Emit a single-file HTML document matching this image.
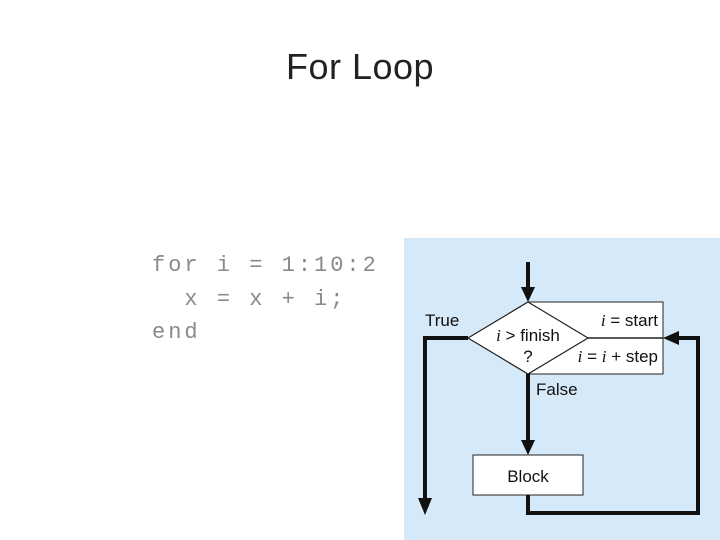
<!DOCTYPE html>
<html><head><meta charset="utf-8"><style>
body{margin:0;width:720px;height:540px;background:#fff;position:relative;overflow:hidden;font-family:"Liberation Sans",sans-serif}
.t{position:absolute;left:0;width:720px;top:46px;text-align:center;font-size:36px;color:#222;letter-spacing:0.5px}
.c{position:absolute;left:152px;font-family:"Liberation Mono",monospace;font-size:22px;letter-spacing:3px;color:#8a8a8a;white-space:pre}
</style></head><body>
<div class="t">For Loop</div>
<div class="c" style="top:253px">for i = 1:10:2</div>
<div class="c" style="top:287px">  x = x + i;</div>
<div class="c" style="top:320px">end</div>
<svg style="position:absolute;left:0;top:0" width="720" height="540">
<rect x="404" y="238" width="316" height="302" fill="#d5e9f8"/>
<rect x="528" y="302" width="135" height="72" fill="#fff" stroke="#222" stroke-width="1"/>
<line x1="588" y1="338" x2="663" y2="338" stroke="#222" stroke-width="1.5"/>
<polygon points="528,302 588,338 528,374 468,338" fill="#fff" stroke="#222" stroke-width="1.2"/>
<rect x="473" y="455" width="110" height="40" fill="#fff" stroke="#222" stroke-width="1"/>
<g stroke="#111" stroke-width="4" fill="none">
<line x1="528" y1="262" x2="528" y2="290"/>
<polyline points="468,338 425,338 425,500"/>
<line x1="528" y1="374" x2="528" y2="443"/>
<polyline points="528,495 528,513 698,513 698,338 676,338"/>
</g>
<g fill="#111">
<polygon points="521,287 535,287 528,302"/>
<polygon points="418,498 432,498 425,515"/>
<polygon points="521,440 535,440 528,455"/>
<polygon points="679,331 679,345 663,338"/>
</g>
<g font-size="17" fill="#111">
<text x="425" y="326">True</text>
<text x="658" y="326" text-anchor="end"><tspan font-style="italic" font-family="Liberation Serif">i</tspan> = start</text>
<text x="528" y="341" text-anchor="middle"><tspan font-style="italic" font-family="Liberation Serif">i</tspan> &gt; finish</text>
<text x="528" y="362" text-anchor="middle">?</text>
<text x="658" y="362" text-anchor="end"><tspan font-style="italic" font-family="Liberation Serif">i</tspan> = <tspan font-style="italic" font-family="Liberation Serif">i</tspan> + step</text>
<text x="536" y="395">False</text>
<text x="528" y="482" text-anchor="middle">Block</text>
</g>
</svg>
</body></html>
